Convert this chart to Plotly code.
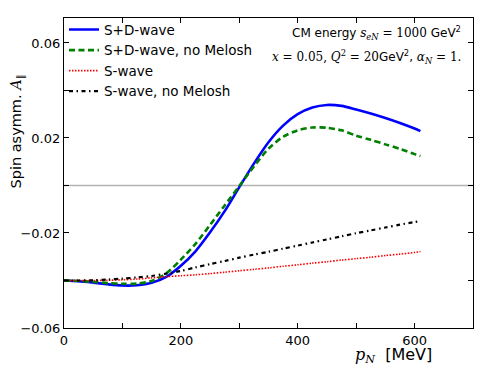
import plotly.graph_objects as go

p_mev = [0, 25, 50, 75, 100, 125, 150, 175, 200, 225, 250, 275, 300, 325, 350,
         375, 400, 425, 450, 475, 500, 525, 550, 575, 600, 610]

sd_wave = [-0.0400, -0.0403, -0.0409, -0.0416, -0.0421, -0.0420, -0.0410, -0.0385,
           -0.0338, -0.0277, -0.0197, -0.0108, -0.0007, 0.0092, 0.0182, 0.0252,
           0.0300, 0.0328, 0.0339, 0.0335, 0.0320, 0.0303, 0.0284, 0.0263, 0.0240, 0.0229]

sd_wave_nomel = [-0.0400, -0.0402, -0.0406, -0.0411, -0.0414, -0.0413, -0.0402, -0.0370,
                 -0.0312, -0.0246, -0.0166, -0.0084, -0.0002, 0.0080, 0.0155, 0.0205,
                 0.0232, 0.0244, 0.0243, 0.0232, 0.0210, 0.0192, 0.0173, 0.0154, 0.0132, 0.0124]

s_wave = [-0.0400, -0.0400, -0.0400, -0.0399, -0.0397, -0.0394, -0.0389, -0.0384,
          -0.0380, -0.0376, -0.0371, -0.0365, -0.0359, -0.0353, -0.0347, -0.0340,
          -0.0334, -0.0327, -0.0321, -0.0314, -0.0308, -0.0302, -0.0295, -0.0289, -0.0282, -0.0278]

s_wave_nomel = [-0.0400, -0.0400, -0.0399, -0.0396, -0.0392, -0.0387, -0.0381, -0.0371,
                -0.0360, -0.0345, -0.0331, -0.0318, -0.0304, -0.0291, -0.0279, -0.0266,
                -0.0253, -0.0240, -0.0227, -0.0214, -0.0201, -0.0189, -0.0177, -0.0165, -0.0154, -0.0150]

x_ticks = [0, 100, 200, 300, 400, 500, 600, 700]
x_ticklabels = ["0", "", "200", "", "400", "", "600", ""]
y_ticks = [-0.06, -0.04, -0.02, 0.0, 0.02, 0.04, 0.06]
y_ticklabels = ["\u22120.06", "", "\u22120.02", "", "0.02", "", "0.06"]

FONT = "DejaVu Sans"

fig = go.Figure()

fig.add_shape(type="line", xref="paper", x0=0, x1=1, yref="y", y0=0, y1=0,
              line=dict(color="#b3b3b3", width=1.5), layer="below")

fig.add_trace(go.Scatter(x=p_mev, y=sd_wave, mode="lines", name="S+D-wave",
                         line=dict(color="#0000ff", width=2.6, shape="spline", smoothing=0.8)))
fig.add_trace(go.Scatter(x=p_mev, y=sd_wave_nomel, mode="lines", name="S+D-wave, no Melosh",
                         line=dict(color="#008000", width=2.6, dash="6px,3.5px", shape="spline", smoothing=0.8)))
fig.add_trace(go.Scatter(x=p_mev, y=s_wave, mode="lines", name="S-wave",
                         line=dict(color="#ff0000", width=1.6, dash="1.5px,1.5px", shape="spline", smoothing=0.8)))
fig.add_trace(go.Scatter(x=p_mev, y=s_wave_nomel, mode="lines", name="S-wave, no Melosh",
                         line=dict(color="#000000", width=2.2, dash="4px,3.5px,1.5px,3.5px", shape="spline", smoothing=0.8)))

axis_common = dict(showline=True, linecolor="black", linewidth=1.2, mirror="ticks",
                   ticks="inside", ticklen=5, tickwidth=1, tickcolor="black",
                   showgrid=False, zeroline=False, automargin=False,
                   tickfont=dict(family=FONT, size=13, color="black"))

fig.update_xaxes(range=[0, 700], tickmode="array", tickvals=x_ticks,
                 ticktext=x_ticklabels, **axis_common)
fig.update_yaxes(range=[-0.06, 0.0705], tickmode="array", tickvals=y_ticks,
                 ticktext=y_ticklabels, **axis_common)

fig.add_annotation(xref="paper", yref="paper", x=-0.114, y=0.635, xanchor="center", yanchor="middle",
                   textangle=-90,
                   text="Spin asymm. <span style=\"font-family:DejaVu Serif\"><i>A</i></span><sub>\u2225</sub>",
                   showarrow=False, font=dict(family=FONT, size=14.5, color="black"))

fig.add_annotation(xref="paper", yref="paper", x=0.805, y=-0.09, xanchor="center", yanchor="middle",
                   text="<span style=\"font-family:DejaVu Serif\"><i>p<sub>N</sub></i></span>  [MeV]",
                   showarrow=False, font=dict(family=FONT, size=16, color="black"))

fig.add_annotation(xref="paper", yref="paper", x=0.975, y=0.952, xanchor="right", yanchor="middle",
                   text="CM energy <span style=\"font-family:DejaVu Serif\"><i>s<sub>eN</sub></i> = 1000</span> GeV<sup>2</sup>",
                   showarrow=False, font=dict(family=FONT, size=12, color="black"))
fig.add_annotation(xref="paper", yref="paper", x=0.975, y=0.874, xanchor="right", yanchor="middle",
                   text="<span style=\"font-family:DejaVu Serif\"><i>x</i> = 0.05, <i>Q</i><sup>2</sup> = 20</span>GeV<sup>2</sup>, <span style=\"font-family:DejaVu Serif\"><i>\u03b1<sub>N</sub></i> = 1.</span>",
                   showarrow=False, font=dict(family=FONT, size=12, color="black"))

fig.update_layout(
    width=498, height=374,
    margin=dict(l=56, r=33, t=10, b=54, autoexpand=False),
    paper_bgcolor="white", plot_bgcolor="white",
    font=dict(family=FONT, size=13, color="black"),
    legend=dict(x=0.0, y=1.012, xanchor="left", yanchor="top", bgcolor="rgba(0,0,0,0)",
                borderwidth=0, font=dict(family=FONT, size=13.5, color="black"),
                tracegroupgap=0, itemwidth=30),
    showlegend=True,
)

fig.write_html("out.html")
